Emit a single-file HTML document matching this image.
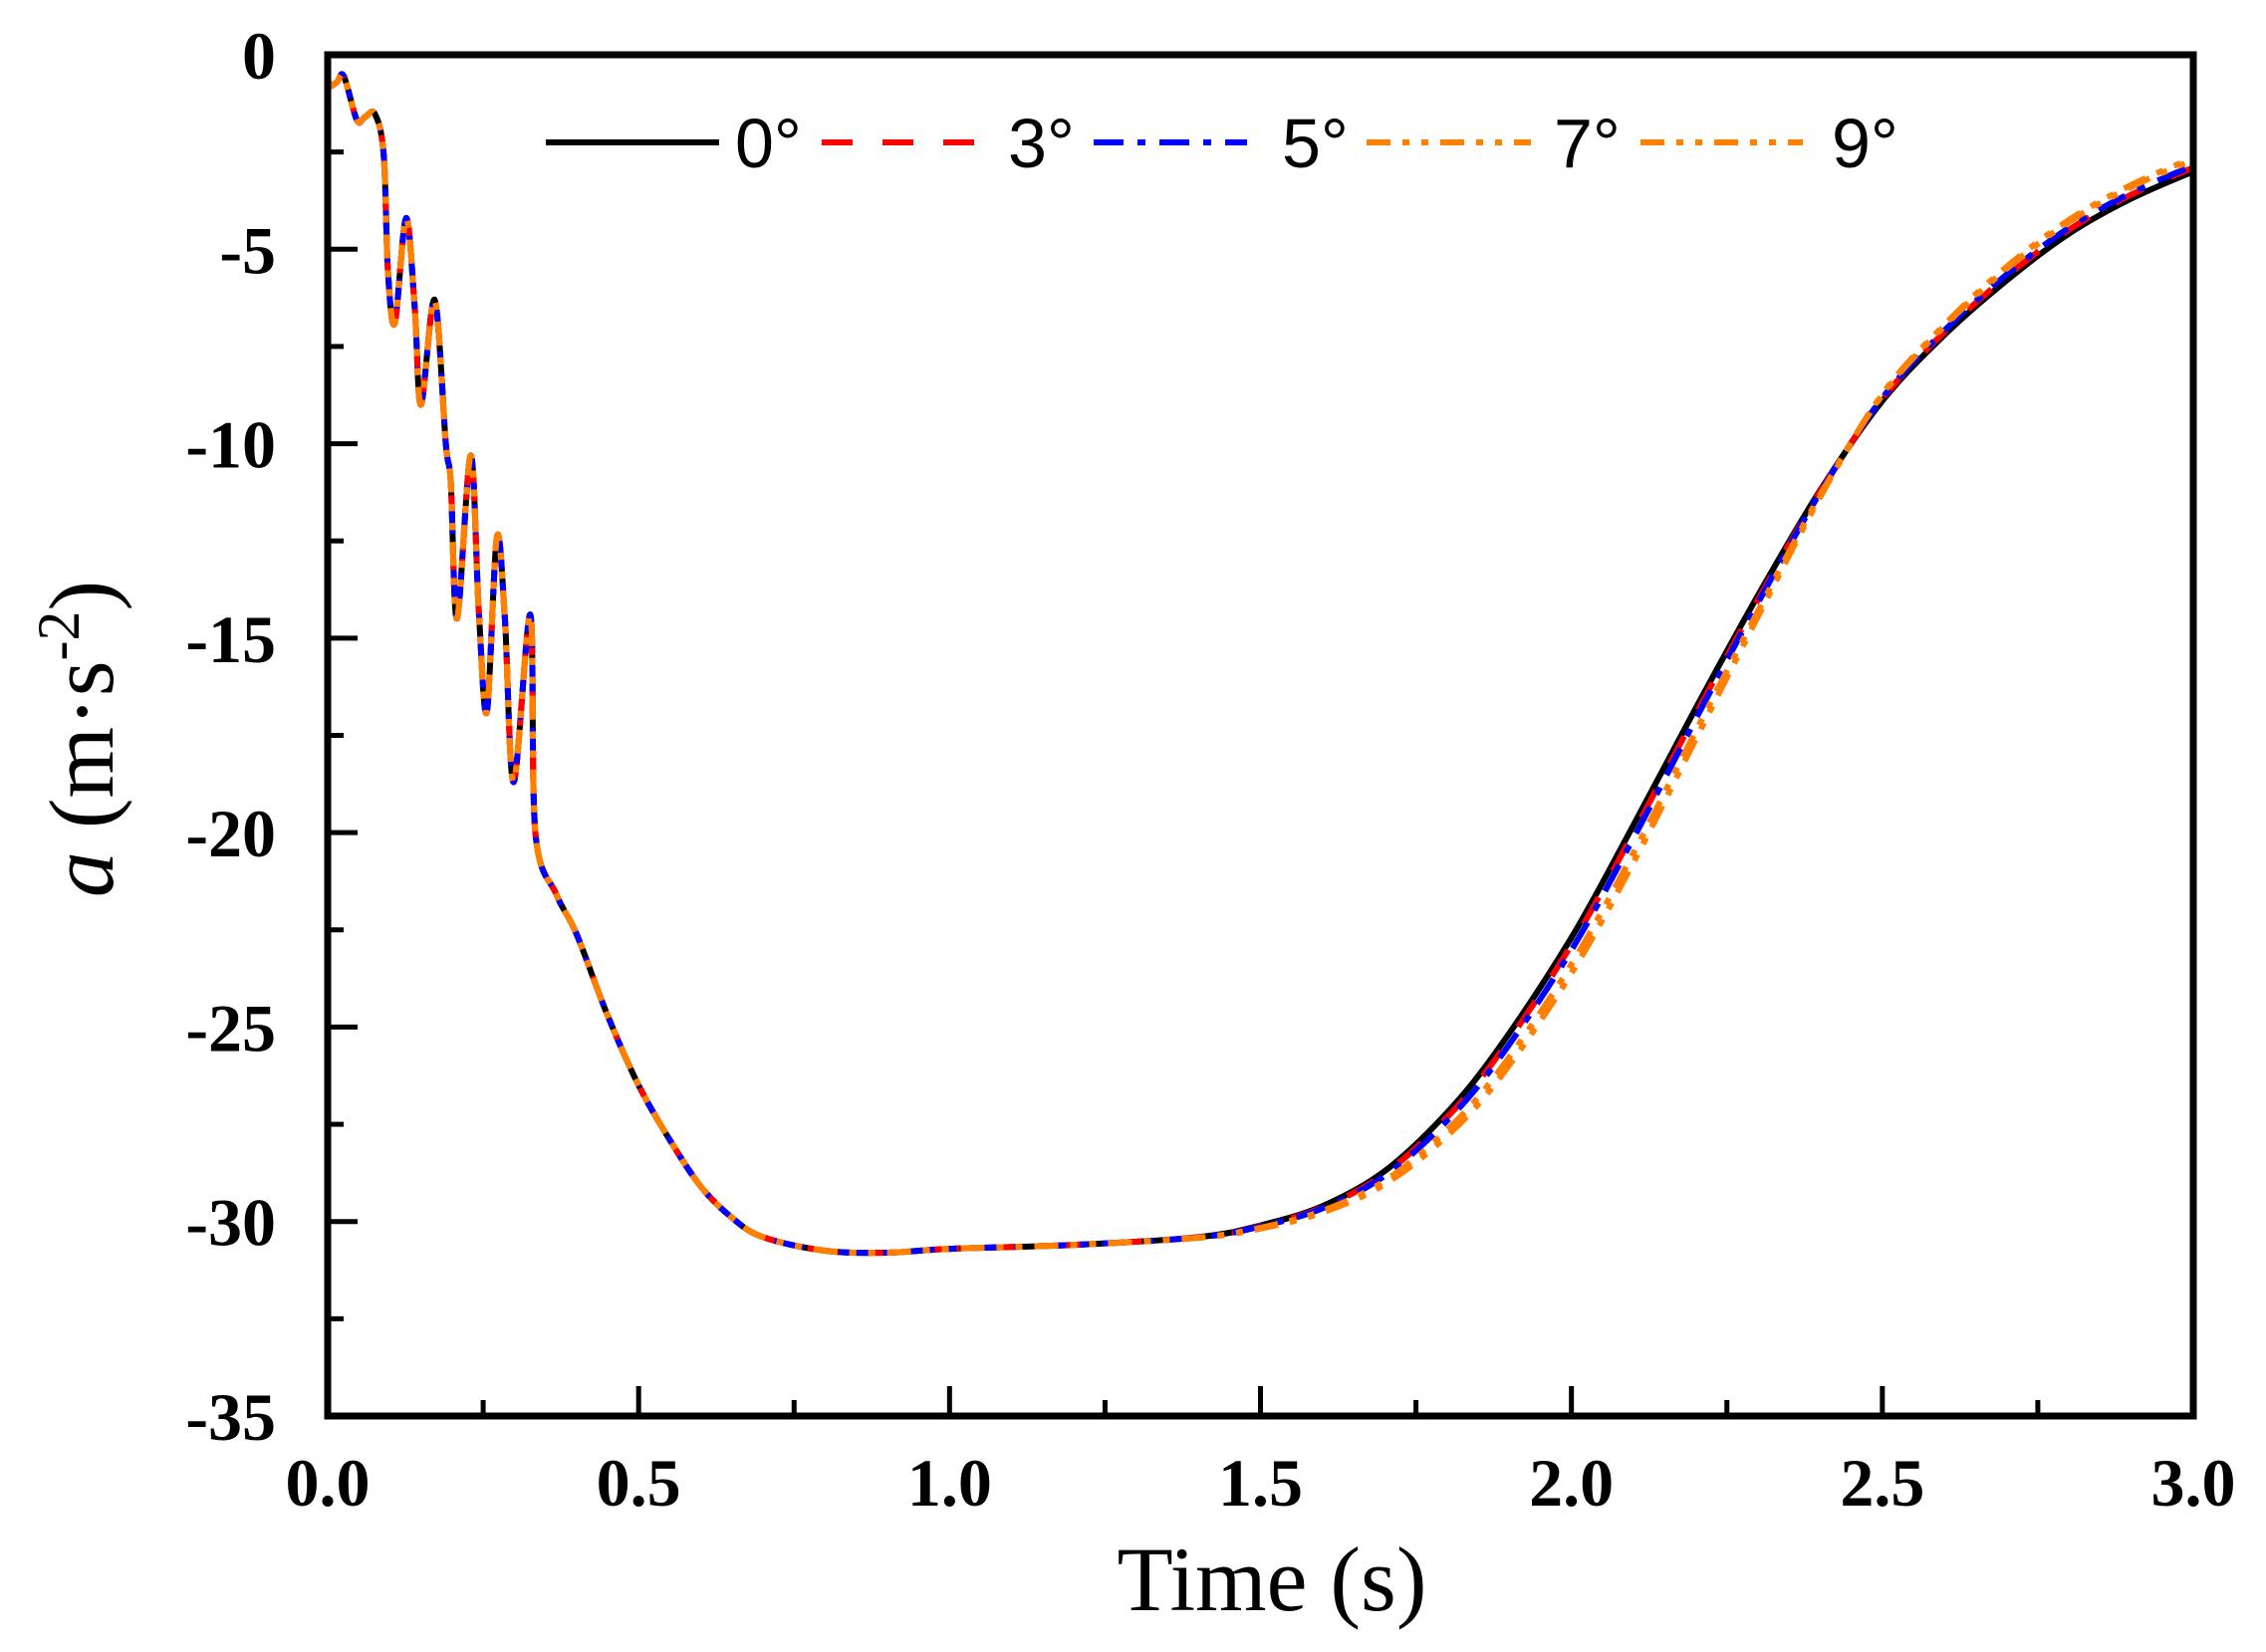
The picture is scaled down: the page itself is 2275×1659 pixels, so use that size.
<!DOCTYPE html>
<html><head><meta charset="utf-8"><style>
html,body{margin:0;padding:0;background:#fff;}
svg{display:block;}
</style></head><body>
<svg id="s" width="2275" height="1659" viewBox="0 0 2275 1659" xmlns="http://www.w3.org/2000/svg">
<rect width="2275" height="1659" fill="#fff"/>
<g id="curves" fill="none" stroke-linejoin="round"></g>
<g id="axes"></g>
<!-- legend -->
<g stroke-width="6" fill="none">
<line x1="548" y1="143" x2="722" y2="143" stroke="#000"/>
<line x1="825" y1="143" x2="995" y2="143" stroke="#ff0000" stroke-dasharray="31 30"/>
<line x1="1098" y1="143" x2="1252" y2="143" stroke="#0000ff" stroke-dasharray="30 14 8 14"/>
<line x1="1372" y1="143" x2="1537" y2="143" stroke="#ff8000" stroke-dasharray="24 12 7 12 7 12"/>
<line x1="1647" y1="143" x2="1810" y2="143" stroke="#ff8000" stroke-dasharray="24 12 7 12 7 12"/>
</g>
<g font-family="Liberation Sans, sans-serif" font-size="70" fill="#000">
<text x="738" y="168">0°</text>
<text x="1012" y="168">3°</text>
<text x="1287" y="168">5°</text>
<text x="1560" y="168">7°</text>
<text x="1839" y="168">9°</text>
</g>
<g font-family="Liberation Serif, serif" fill="#000">
<text x="1277" y="1617" font-size="92" text-anchor="middle">Time (s)</text>
<text transform="translate(113,742) rotate(-90)" font-size="92" text-anchor="middle"><tspan font-style="italic">a</tspan> (m·s<tspan font-size="60" dy="-34">-2</tspan><tspan dy="34">)</tspan></text>
</g>
</svg>
<script>
const X0=329,X1=2202,Y0=55,Y1=1422;
const sx=t=>X0+(X1-X0)*t/3, sy=a=>Y0+(Y1-Y0)*(-a)/35;
const ns="http://www.w3.org/2000/svg";
function el(tag,attrs,parent){const e=document.createElementNS(ns,tag);for(const k in attrs)e.setAttribute(k,attrs[k]);parent.appendChild(e);return e;}
const ax=document.getElementById('axes');
// ticks
for(let i=0;i<=14;i++){const a=-2.5*i;const y=sy(a);const L=(i%2==0)?30:16;
 el('line',{x1:X0,y1:y,x2:X0+L,y2:y,stroke:'#000','stroke-width':5},ax);}
for(let i=0;i<=12;i++){const t=0.25*i;const x=sx(t);const L=(i%2==0)?30:16;
 el('line',{x1:x,y1:Y1,x2:x,y2:Y1-L,stroke:'#000','stroke-width':5},ax);}
el('rect',{x:X0,y:Y0,width:X1-X0,height:Y1-Y0,fill:'none',stroke:'#000','stroke-width':7},ax);
for(let i=0;i<=7;i++){const v=-5*i;const t=el('text',{x:277,y:sy(v)+24,'font-family':'Liberation Serif, serif','font-weight':'bold','font-size':68,'text-anchor':'end'},ax);t.textContent=(v==0?'0':String(v));}
for(let i=0;i<=6;i++){const v=0.5*i;const t=el('text',{x:sx(v),y:1512,'font-family':'Liberation Serif, serif','font-weight':'bold','font-size':68,'text-anchor':'middle'},ax);t.textContent=v.toFixed(1);}
// data
const D=[[0,-0.6],[0.004,-0.8],[0.015,-0.7],[0.026,-0.55],[0.047,-1.68],[0.06,-1.6],[0.076,-1.52],[0.09,-2.56],[0.097,-5.6],[0.108,-6.9],[0.126,-4.2],[0.14,-6.5],[0.15,-9.0],[0.172,-6.3],[0.19,-10.0],[0.198,-11],[0.208,-14.5],[0.23,-10.3],[0.243,-14.3],[0.256,-16.9],[0.272,-12.4],[0.285,-14.5],[0.299,-18.7],[0.326,-14.4],[0.334,-20.0],[0.368,-21.6],[0.4,-22.6],[0.45,-24.7],[0.5,-26.5],[0.55,-27.9],[0.6,-29.1],[0.65,-29.9],[0.7,-30.4],[0.8,-30.75],[0.9,-30.8],[1.0,-30.7],[1.2,-30.6],[1.4,-30.4],[1.5,-30.1],[1.6,-29.6],[1.7,-28.7],[1.8,-27.2],[1.885,-25.5],[2.0,-22.7],[2.1,-19.8],[2.2,-16.8],[2.3,-13.9],[2.4,-11.2],[2.5,-8.9],[2.6,-7.2],[2.7,-5.8],[2.8,-4.6],[2.9,-3.7],[3.0,-3.0]];
function interp(t){for(let i=1;i<D.length;i++){if(t<=D[i][0]){const [t0,a0]=D[i-1],[t1,a1]=D[i];return a0+(a1-a0)*(t-t0)/(t1-t0);}}return D[D.length-1][1];}
function variant(shift,up){return D.map(([t,a])=>{
 let d=0; if(t>1.2&&t<2.5){d=shift*Math.sin(Math.PI*(t-1.2)/1.3);}
 let u=0; if(t>2.3){u=up*Math.min(1,(t-2.3)/0.4);}
 let na=(t>1.2&&t<2.5)?interp(Math.max(1.2,t-d)):a;
 return [t,na+u];});}
function path(P){const pts=P.map(([t,a])=>[sx(t),sy(a)]);let d='M'+pts[0][0].toFixed(1)+','+pts[0][1].toFixed(1);
 for(let i=0;i<pts.length-1;i++){const p0=pts[Math.max(0,i-1)],p1=pts[i],p2=pts[i+1],p3=pts[Math.min(pts.length-1,i+2)];
  const c1=[p1[0]+(p2[0]-p0[0])/6,p1[1]+(p2[1]-p0[1])/6],c2=[p2[0]-(p3[0]-p1[0])/6,p2[1]-(p3[1]-p1[1])/6];
  d+='C'+c1.map(v=>v.toFixed(1)).join(',')+' '+c2.map(v=>v.toFixed(1)).join(',')+' '+p2.map(v=>v.toFixed(1)).join(',');}
 return d;}
const g=document.getElementById('curves');
const S=[[D,'#000',null],[variant(0.008,0.1),'#ff0000','31 30'],[variant(0.014,0.15),'#0000ff','30 14 8 14'],[variant(0.03,0.3),'#ff8000','24 12 7 12 7 12'],[variant(0.04,0.35),'#ff8000','24 12 7 12 7 12']];
for(const [P,c,da] of S){const a={d:path(P),stroke:c,'stroke-width':6};if(da)a['stroke-dasharray']=da;el('path',a,g);}
</script>
</body></html>
